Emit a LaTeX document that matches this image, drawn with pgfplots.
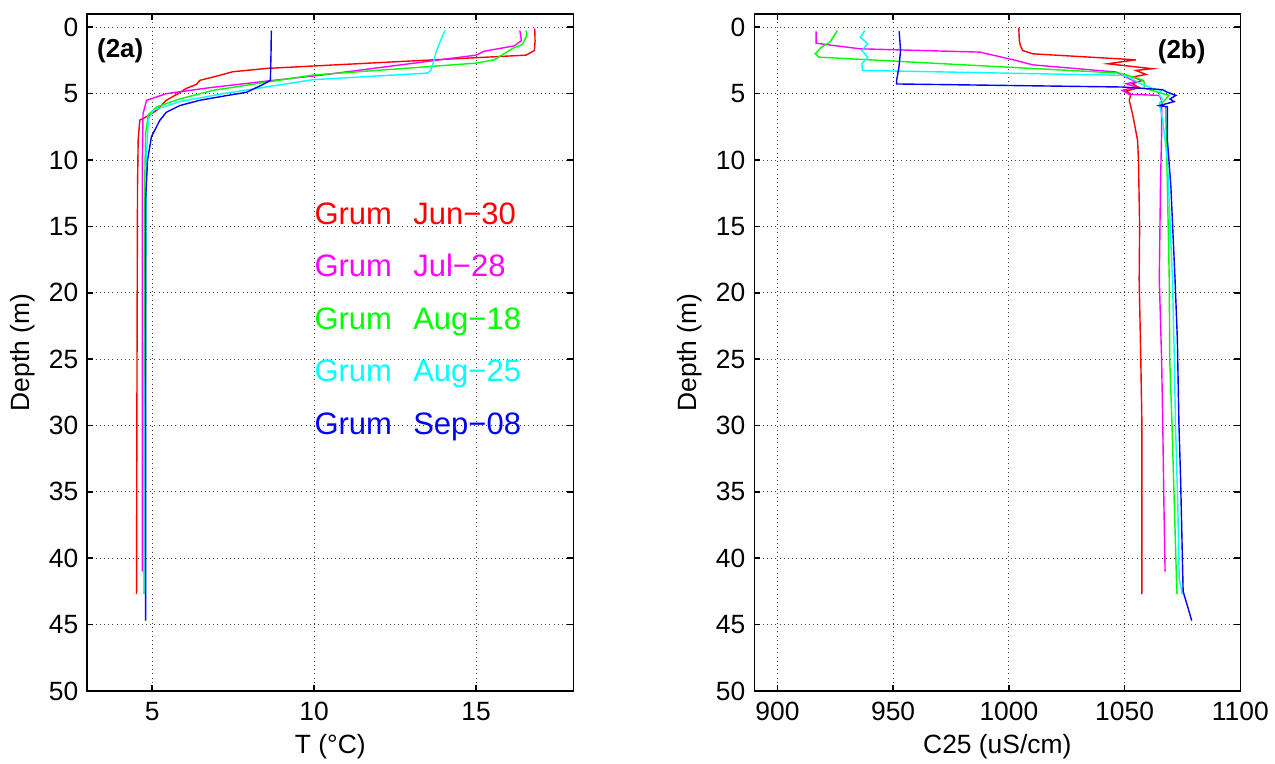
\documentclass[border=0pt]{standalone}
\usepackage{pgfplots}
\pgfplotsset{compat=1.18}
\usepackage{fontspec}
\setmainfont{Liberation Sans}

\definecolor{cRed}{rgb}{1,0,0}
\definecolor{cMag}{rgb}{1,0,1}
\definecolor{cGrn}{rgb}{0,1,0}
\definecolor{cCya}{rgb}{0,1,1}
\definecolor{cBlu}{rgb}{0,0,1}

\pgfplotsset{
  profile/.style={
    width=243pt, height=338.5pt, scale only axis,
    y dir=reverse, ymin=-1, ymax=50, ytick={0,5,...,50},
    tick align=inside, major tick length=3pt,
    xmajorgrids, ymajorgrids,
    grid style={black!75, line width=0.5pt, dash pattern=on 0.5pt off 1.6pt},
    axis line style={line width=0.8pt},
    every tick/.style={black, line width=0.8pt},
    tick label style={font=\fontsize{13.2}{15}\selectfont},
    xticklabel style={yshift=-2pt},
    yticklabel style={xshift=-1pt},
    label style={font=\fontsize{13.2}{15}\selectfont},
    /pgf/number format/assume math mode=true,
    /pgf/number format/1000 sep={},
    ylabel={Depth (m)},
    every axis plot/.append style={line width=0.7pt, mark=none},
  },
}

\begin{document}
\begin{tikzpicture}
\path[use as bounding box] (-43.65pt,-36.5pt) rectangle (593.85pt,345.5pt);

% temperature
\begin{axis}[profile, at={(0pt,0pt)}, anchor=south west,
  xmin=3, xmax=18, xtick={5,10,15}, xlabel={T (°C)}]
\addplot[cRed] coordinates {(16.81,0.1) (16.82,1.0) (16.80,1.75) (16.54,2.1)
  (12.5,2.6) (8.53,3.1) (7.49,3.35) (6.88,3.75) (6.47,4.0) (6.37,4.3) (6.06,4.6)
  (5.8,5.0) (5.44,5.5) (5.14,6.25) (4.93,6.6) (4.62,7.0) (4.57,8.5) (4.55,12)
  (4.54,20) (4.53,30) (4.52,42.7)};
\addplot[cMag] coordinates {(16.35,0.25) (16.4,1.0) (16.18,1.4) (15.25,1.8)
  (15.0,2.1) (10.17,3.62) (8.73,4.0) (6.78,4.55) (5.44,5.0) (4.83,5.5) (4.72,6.5)
  (4.7,10) (4.7,20) (4.7,30) (4.7,41)};
\addplot[cGrn] coordinates {(16.54,0.25) (16.57,0.6) (16.43,1.3) (16.12,1.6)
  (15.56,2.45) (15.0,2.7) (9.96,3.6) (6.88,4.75) (5.85,5.4) (5.14,6.0) (4.88,6.6)
  (4.8,8.0) (4.77,12) (4.76,20) (4.75,30) (4.75,42.7)};
\addplot[cCya] coordinates {(14.04,0.25) (13.92,0.9) (13.76,1.9) (13.7,2.5)
  (13.6,3.25) (13.5,3.45) (9.96,3.95) (7.19,5.0) (5.85,5.6) (5.03,6.25) (4.88,7.0)
  (4.82,10) (4.8,20) (4.78,30) (4.78,42.7)};
\addplot[cBlu] coordinates {(8.68,0.25) (8.67,2.0) (8.65,4.0) (8.43,4.3)
  (7.91,4.9) (7.29,5.15) (6.47,5.5) (5.85,5.9) (5.44,6.4) (5.24,7.0) (4.98,8.25)
  (4.86,10) (4.8,13) (4.8,20) (4.8,30) (4.8,40) (4.8,44.7)};

\node[anchor=west, inner sep=0, font=\bfseries\fontsize{13}{15}\selectfont]
  at (axis cs:3.29,1.75) {(2a)};
\begin{scope}[every node/.style={anchor=base west, inner sep=0,
    font=\fontsize{15.5}{18}\selectfont}]
\node[text=cRed] at (axis cs:10,14.85) {Grum};
\node[text=cRed] at (axis cs:13.05,14.85) {Jun−30};
\node[text=cMag] at (axis cs:10,18.8) {Grum};
\node[text=cMag] at (axis cs:13.05,18.8) {Jul−28};
\node[text=cGrn] at (axis cs:10,22.75) {Grum};
\node[text=cGrn] at (axis cs:13.05,22.75) {Aug−18};
\node[text=cCya] at (axis cs:10,26.7) {Grum};
\node[text=cCya] at (axis cs:13.05,26.7) {Aug−25};
\node[text=cBlu] at (axis cs:10,30.65) {Grum};
\node[text=cBlu] at (axis cs:13.05,30.65) {Sep−08};
\end{scope}
\end{axis}

% conductivity
\begin{axis}[profile, at={(333.5pt,0pt)}, anchor=south west,
  xmin=890, xmax=1100, xtick={900,950,...,1100}, xlabel={C25 (uS/cm)}]
\addplot[cRed] coordinates {(1004.3,0.05) (1004.5,1.0) (1005,1.4) (1006,1.75)
  (1010.3,2.0) (1054.9,2.45) (1042.7,2.75) (1062.1,3.12) (1054.9,3.25)
  (1059.2,3.55) (1053.4,3.75) (1057.7,4.0) (1053.4,4.25) (1056.3,4.55)
  (1050.6,4.8) (1052.7,5.05) (1052,5.5) (1053.4,6.5) (1055.6,8.5) (1056,10)
  (1056.5,15) (1056.3,19) (1057,25) (1057.5,30) (1057.5,36) (1057.5,42.7)};
\addplot[cMag] coordinates {(916.7,0.3) (916.7,1.2) (935.6,1.62) (987.4,1.87)
  (1003.2,2.5) (1010.3,2.83) (1046.3,3.37) (1052,3.87) (1055,4.1) (1050.7,4.25)
  (1055,4.5) (1049,4.75) (1052,5.05) (1065,5.13) (1066,5.5) (1066,8)
  (1065.5,12) (1065,19) (1066,25) (1066.5,30) (1067,36) (1067.5,41)};
\addplot[cGrn] coordinates {(925.9,0.25) (922.7,1.12) (919,1.5) (916.3,2.0)
  (918,2.25) (1047.7,3.45) (1056.3,3.87) (1058.5,4.13) (1058.5,4.6)
  (1069.3,5.13) (1066,5.75) (1067.7,6.0) (1068,8) (1068.5,12) (1069.3,19)
  (1069.5,25) (1070.5,30) (1071.5,36) (1072.6,42.7)};
\addplot[cCya] coordinates {(937.8,0.25) (935.8,0.75) (939,1.25) (936.5,1.75)
  (939,2.25) (936.5,2.75) (936.8,3.25) (1049.1,3.62) (1051.6,3.75) (1057,4.25)
  (1062,4.6) (1066,4.75) (1065,5.1) (1066.3,5.4) (1065,5.75) (1066.5,7)
  (1068.5,10) (1070.7,19) (1071.5,25) (1072,30) (1073,36) (1073.6,41.5)
  (1074.9,42.7)};
\addplot[cBlu] coordinates {(952.6,0.3) (953.2,1.75) (952.5,3.0) (951.5,4.0)
  (951.5,4.27) (1049.1,4.5) (1066.4,4.7) (1068.5,4.9) (1072.2,5.13)
  (1069.6,5.4) (1071.4,5.6) (1065,5.9) (1068.5,6.0) (1068.5,8.5) (1070,12)
  (1071.8,19) (1072.8,23.5) (1073.5,30) (1074.2,34) (1075.3,42.5) (1077,43.5)
  (1079,44.7)};

\node[anchor=west, inner sep=0, font=\bfseries\fontsize{13}{15}\selectfont]
  at (axis cs:1064.2,1.87) {(2b)};
\end{axis}
\end{tikzpicture}
\end{document}
